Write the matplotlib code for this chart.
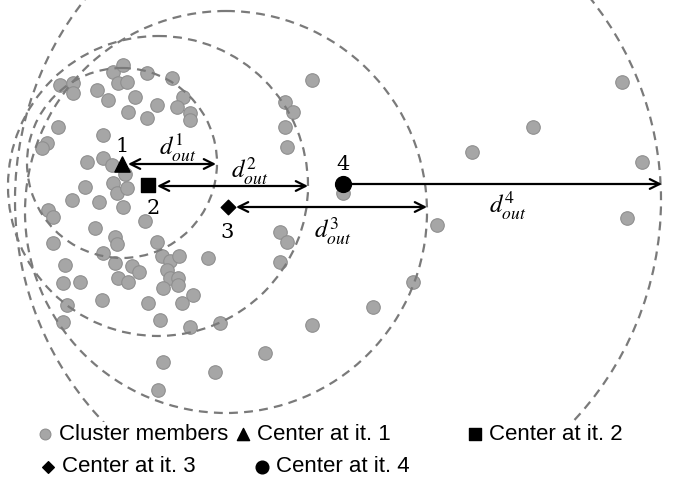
"""Cluster center iterations with outer-distance radii (pixel-space coordinates)."""
import matplotlib
matplotlib.use("Agg")
import matplotlib.pyplot as plt
from matplotlib.patches import Circle

# gray cluster members (x right, y down)
member_x = [60, 73, 73, 97, 108, 113, 123, 118, 127, 147, 135, 157, 172, 183, 177, 190, 190, 128, 147,
            58, 47, 42, 103, 87, 103, 112, 85, 72, 99, 113, 117, 127, 125, 123, 48, 53, 145, 95, 115, 117,
            53, 157, 162, 170, 179, 208, 103, 115, 132, 139, 65, 63, 80, 118, 128, 167, 170, 178, 178,
            163, 193, 182, 102, 148, 67, 63, 160, 190, 220,
            280, 287, 280, 312, 265, 163, 215, 158, 312, 285, 293, 285, 287, 437, 413, 373, 627, 622,
            533, 472, 642, 343]
member_y = [85, 83, 93, 90, 100, 72, 65, 83, 82, 73, 97, 105, 78, 97, 107, 113, 120, 112, 118,
            127, 143, 148, 135, 162, 158, 165, 187, 200, 202, 183, 193, 188, 174, 207, 210, 217, 221, 228, 237, 244,
            243, 242, 256, 261, 256, 258, 253, 263, 266, 272, 265, 283, 282, 278, 282, 270, 278, 278, 285,
            288, 295, 303, 300, 303, 305, 322, 320, 327, 323,
            232, 242, 262, 325, 353, 362, 372, 390, 80, 102, 112, 127, 147, 225, 282, 307, 218, 82,
            127, 152, 162, 193]

# centers at iterations 1..4
center_x = [122, 148, 228, 343]
center_y = [164, 185, 207, 184]
center_markers = ["^", "s", "D", "o"]
center_sizes = [120, 100, 55, 130]

# dashed circles (center x, center y, radius)
circle_cx = [122, 158, 226, 338]
circle_cy = [163, 186, 212, 200]
circle_r = [95, 150, 201, 323]

# distance arrows
arrow_y = [164, 186, 207, 184]
arrow_x0 = [128, 157, 236, 343]
arrow_x1 = [216, 308, 427, 662]
arrow_styles = ["<->", "<->", "<->", "->"]
dist_labels = [r"$d^{1}_{out}$", r"$d^{2}_{out}$", r"$d^{3}_{out}$", r"$d^{4}_{out}$"]
dist_label_x = [178, 250, 333, 508]
dist_label_y = [147, 171, 231, 205]

num_labels = ["1", "2", "3", "4"]
num_label_x = [122, 153, 227, 343]
num_label_y = [147, 209, 232, 164]

legend_labels = ["Cluster members", "Center at it. 1", "Center at it. 2",
                 "Center at it. 3", "Center at it. 4"]

W, H = 679, 487
PLOT_H = 422
MEMBER_FACE = "#a6a6a6"
MEMBER_EDGE = "#8f8f8f"
DASH_COLOR = "#7a7a7a"

plt.rcParams["mathtext.fontset"] = "stix"

fig = plt.figure(figsize=(W / 100, H / 100), dpi=100)
fig.patch.set_facecolor("white")
ax = fig.add_axes([0, (H - PLOT_H) / H, 1, PLOT_H / H])
ax.set_xlim(0, W)
ax.set_ylim(PLOT_H, 0)
ax.axis("off")

members = ax.scatter(member_x, member_y, s=95, c=MEMBER_FACE, edgecolors=MEMBER_EDGE,
                     linewidths=0.8, zorder=2)

for cx, cy, r in zip(circle_cx, circle_cy, circle_r):
    ax.add_patch(Circle((cx, cy), r, fill=False, edgecolor=DASH_COLOR, linewidth=1.6,
                        linestyle=(0, (4, 2.8)), zorder=3))

for y, x0, x1, st in zip(arrow_y, arrow_x0, arrow_x1, arrow_styles):
    ax.annotate("", xy=(x1, y), xytext=(x0, y),
                arrowprops=dict(arrowstyle=st + ",head_length=0.7,head_width=0.35",
                                color="black", lw=1.6, shrinkA=0, shrinkB=0),
                zorder=4)

center_handles = []
for x, y, m, s in zip(center_x, center_y, center_markers, center_sizes):
    center_handles.append(ax.scatter([x], [y], marker=m, s=s, c="black", zorder=5))

for txt, x, y in zip(dist_labels, dist_label_x, dist_label_y):
    ax.text(x, y, txt, fontsize=18, ha="center", va="center", zorder=6)

for txt, x, y in zip(num_labels, num_label_x, num_label_y):
    ax.text(x, y, txt, fontsize=15, family="DejaVu Serif", ha="center", va="center", zorder=6)

# legend entries placed one by one like the original layout
handles = [members] + center_handles
legend_pos = [(36, 434), (234, 434), (466, 434), (39, 467), (253, 467)]
for h, lab, (px, py) in zip(handles, legend_labels, legend_pos):
    fig.legend(handles=[h], labels=[lab], loc="center left",
               bbox_to_anchor=(px / W, 1 - py / H), frameon=False,
               handlelength=0.8, handletextpad=0.25, borderpad=0, borderaxespad=0,
               markerscale=0.8, prop={"family": ["Liberation Sans", "DejaVu Sans"], "size": 16})

fig.savefig("out.png", dpi=100, facecolor="white")
